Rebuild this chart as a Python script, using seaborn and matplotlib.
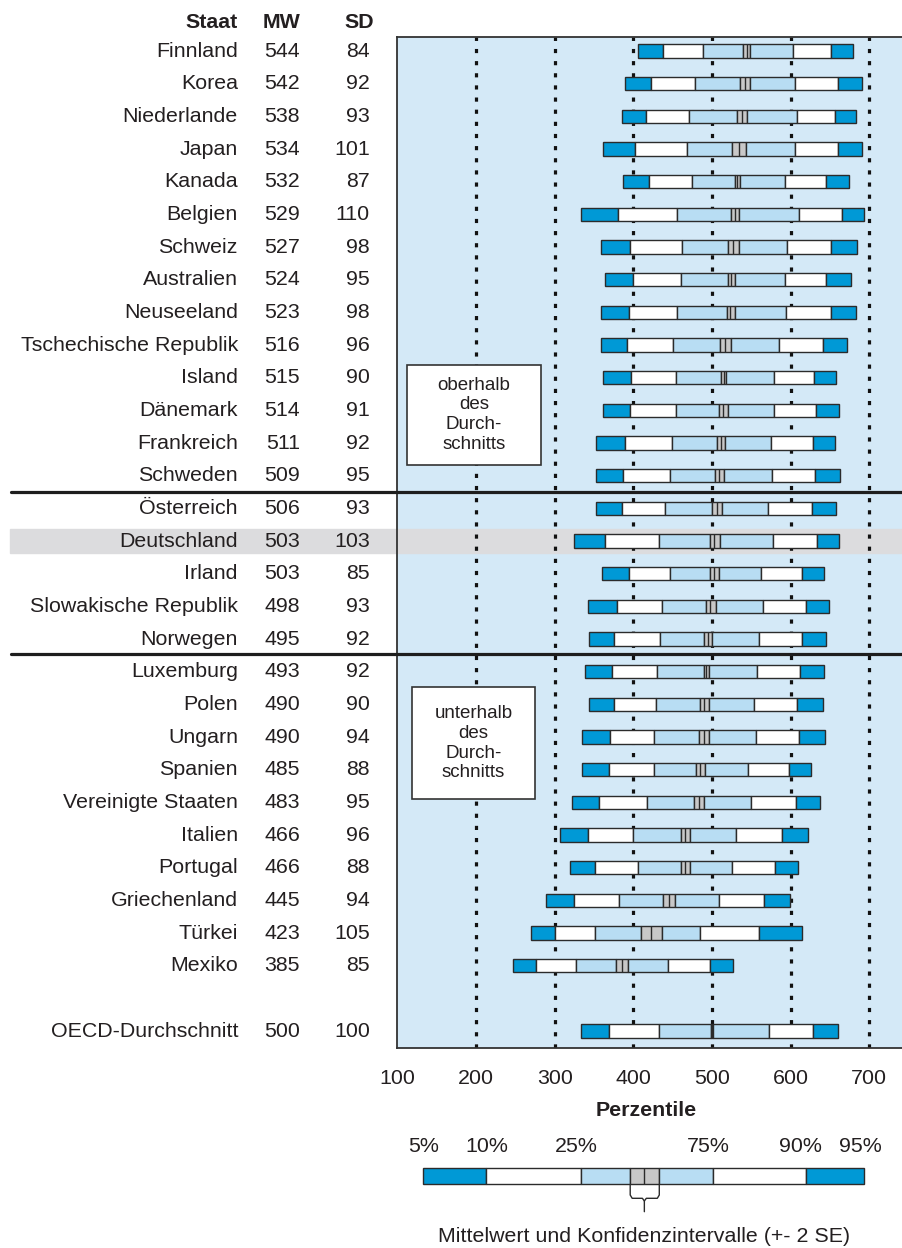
import matplotlib
matplotlib.use("Agg")
import numpy as np
import pandas as pd
import matplotlib.pyplot as plt
import matplotlib.transforms as mtransforms
from matplotlib.patches import Rectangle
import seaborn as sns

# data
countries = ["Finnland", "Korea", "Niederlande", "Japan", "Kanada", "Belgien", "Schweiz",
             "Australien", "Neuseeland", "Tschechische Republik", "Island", "Dänemark",
             "Frankreich", "Schweden", "Österreich", "Deutschland", "Irland",
             "Slowakische Republik", "Norwegen", "Luxemburg", "Polen", "Ungarn", "Spanien",
             "Vereinigte Staaten", "Italien", "Portugal", "Griechenland", "Türkei", "Mexiko",
             "OECD-Durchschnitt"]
mw = [544, 542, 538, 534, 532, 529, 527, 524, 523, 516, 515, 514, 511, 509, 506, 503, 503,
      498, 495, 493, 490, 490, 485, 483, 466, 466, 445, 423, 385, 500]
sd = [84, 92, 93, 101, 87, 110, 98, 95, 98, 96, 90, 91, 92, 95, 93, 103, 85, 93, 92, 92, 90,
      94, 88, 95, 96, 88, 94, 105, 85, 100]
p5 = [406, 389, 386, 361, 387, 334, 359, 364, 359, 359, 362, 361, 352, 353, 353, 324, 360,
      342, 343, 339, 343, 335, 335, 322, 307, 320, 289, 270, 247, 333]
p10 = [438, 423, 416, 402, 420, 381, 396, 399, 395, 392, 397, 396, 389, 387, 385, 364, 394,
       379, 376, 373, 376, 370, 369, 356, 342, 351, 324, 300, 276, 369]
p25 = [488, 479, 471, 468, 474, 456, 462, 460, 456, 450, 454, 454, 449, 447, 440, 432, 446,
       437, 434, 430, 429, 426, 426, 418, 400, 406, 382, 351, 327, 432]
ci_lo = [540, 536, 532, 526, 529, 524, 521, 520, 519, 510, 512, 509, 506, 504, 500, 497, 498,
         492, 490, 490, 485, 484, 480, 477, 460, 460, 438, 410, 378, 499]
ci_hi = [548, 549, 545, 543, 536, 534, 534, 529, 529, 524, 518, 520, 517, 515, 513, 510, 509,
         505, 500, 496, 496, 496, 491, 490, 472, 472, 453, 437, 393, 501]
p75 = [603, 606, 608, 605, 593, 611, 596, 593, 594, 585, 579, 579, 575, 577, 571, 578, 563,
       565, 560, 557, 554, 556, 546, 550, 530, 526, 509, 485, 444, 572]
p90 = [652, 660, 657, 660, 645, 665, 652, 645, 651, 641, 630, 632, 628, 631, 627, 633, 614,
       620, 614, 612, 608, 611, 598, 607, 589, 580, 566, 560, 498, 629]
p95 = [680, 691, 683, 691, 674, 694, 684, 677, 683, 672, 658, 662, 656, 663, 658, 662, 642,
       649, 645, 642, 641, 644, 626, 638, 622, 610, 599, 614, 527, 660]

# legend example bar
legend_labels = ["5%", "10%", "25%", "75%", "90%", "95%"]
legend_vals = [133, 213, 333, 396, 414, 433, 501, 620, 693]  # p5 p10 p25 ci_lo mean ci_hi p75 p90 p95

df = pd.DataFrame({"Staat": countries, "MW": mw, "SD": sd, "p5": p5, "p10": p10, "p25": p25,
                   "ci_lo": ci_lo, "ci_hi": ci_hi, "p75": p75, "p90": p90, "p95": p95})
df["pos"] = list(range(len(countries) - 1)) + [len(countries)]

DARK = "#0099d6"
LIGHT = "#b8ddf3"
BG = "#d4e9f7"
GREY = "#c8c8c8"
EDGE = "#2b2b2b"
TXT = "#231f20"
FS = 15.4

sns.set_theme(style="white")
plt.rcParams["font.family"] = ["Liberation Sans", "DejaVu Sans"]

W, H = 903, 1248
fig = plt.figure(figsize=(W / 100, H / 100), dpi=100)
ax = fig.add_axes([397.5 / W, 1 - 1048 / H, 1 - 397.5 / W, (1048 - 36.7) / H])
ax.set_facecolor(BG)
ax.set_xlim(100, 743)
ax.set_ylim(30.52, -0.44)

bh = 0.41
segments = [("p5", "p10", DARK), ("p10", "p25", "white"), ("p25", "ci_lo", LIGHT),
            ("ci_lo", "ci_hi", GREY), ("ci_hi", "p75", LIGHT), ("p75", "p90", "white"),
            ("p90", "p95", DARK)]
for a, b, c in segments:
    ax.barh(df["pos"], df[b] - df[a], left=df[a], height=bh, color=c,
            edgecolor=EDGE, linewidth=1.0, zorder=4)
ax.vlines(df["MW"], df["pos"] - bh / 2, df["pos"] + bh / 2, color=EDGE, lw=1.0, zorder=5)

# dotted grid
for xv in range(200, 701, 100):
    ax.axvline(xv, color="#111111", lw=2.3, ls=(0, (1.3, 2.5)), zorder=2)

# Deutschland band and separators (run into the table)
blend = mtransforms.blended_transform_factory(fig.transFigure, ax.transData)
ax.add_patch(Rectangle((10 / W, 14.63), 1, 0.74, transform=blend, color="#dcdcde",
                       clip_on=False, zorder=1))
for ys in [13.5, 18.45]:
    ax.plot([11 / W, 1], [ys, ys], transform=blend, color="#1e1e1e", lw=2.3,
            clip_on=False, zorder=6)

# annotation boxes
for (x0, x1, y0, y1, txt) in [(112, 283, 9.6, 12.67, "oberhalb\ndes\nDurch-\nschnitts"),
                              (118, 275, 19.47, 22.9, "unterhalb\ndes\nDurch-\nschnitts")]:
    ax.add_patch(Rectangle((x0, y0), x1 - x0, y1 - y0, facecolor="white",
                           edgecolor="#333333", lw=1.2, zorder=3))
    ax.text((x0 + x1) / 2, (y0 + y1) / 2, txt, ha="center", va="center",
            fontsize=13.5, color=TXT, linespacing=1.22, zorder=4)

# table on the left
for _, r in df.iterrows():
    ax.text(238 / W, r["pos"], r["Staat"], transform=blend, ha="right", va="center",
            fontsize=FS, color=TXT)
    ax.text(300 / W, r["pos"], str(r["MW"]), transform=blend, ha="right", va="center",
            fontsize=FS, color=TXT)
    ax.text(370 / W, r["pos"], str(r["SD"]), transform=blend, ha="right", va="center",
            fontsize=FS, color=TXT)
for xh, t in [(238, "Staat"), (300, "MW"), (374, "SD")]:
    ax.text(xh / W, -0.87, t, transform=blend, ha="right", va="center",
            fontsize=FS, fontweight="bold", color=TXT)

ax.set_yticks([])
ax.set_xticks(range(100, 701, 100))
ax.tick_params(axis="x", direction="out", length=4, width=1.2, colors="#222222",
               labelsize=FS, pad=11, labelcolor=TXT)
ax.set_xlabel("Perzentile", fontsize=FS, fontweight="bold", color=TXT)
ax.xaxis.set_label_coords(0.491, -0.052)
for s in ["left", "top", "bottom"]:
    ax.spines[s].set_color("#333333")
    ax.spines[s].set_linewidth(1.3)
ax.spines["right"].set_visible(False)

# legend bar underneath
lax = fig.add_axes([397.5 / W, 0, 1 - 397.5 / W, 125 / H])
lax.set_xlim(100, 743)
lax.set_ylim(1248, 1123)
lax.axis("off")
lv = legend_vals
leg_edges = [(lv[0], lv[1], DARK), (lv[1], lv[2], "white"), (lv[2], lv[3], LIGHT),
             (lv[3], lv[5], GREY), (lv[5], lv[6], LIGHT), (lv[6], lv[7], "white"),
             (lv[7], lv[8], DARK)]
for a, b, c in leg_edges:
    lax.barh(1176, b - a, left=a, height=16.7, color=c, edgecolor=EDGE, linewidth=1.0)
lax.vlines(lv[4], 1176 - 8.35, 1176 + 8.35, color=EDGE, lw=1.0)
for lab, xv in zip(legend_labels, [lv[0], lv[1], lv[2] - 5, lv[6] - 6, lv[7] - 7, lv[8] - 4]):
    lax.text(xv, 1147, lab, ha="center", va="center", fontsize=FS, color=TXT)
lo, m, hi = lv[3], lv[4], lv[5]
lax.plot([lo, lo, lo + 2.5, m - 2.5, m, m], [1184.5, 1195, 1198.3, 1198.3, 1201, 1211.7],
         color=EDGE, lw=1.0)
lax.plot([hi, hi, hi - 2.5, m + 2.5, m], [1184.5, 1195, 1198.3, 1198.3, 1201],
         color=EDGE, lw=1.0)
lax.text(m, 1237, "Mittelwert und Konfidenzintervalle (+- 2 SE)", ha="center",
         va="center", fontsize=FS, color=TXT)

fig.savefig("out.png", dpi=100)
